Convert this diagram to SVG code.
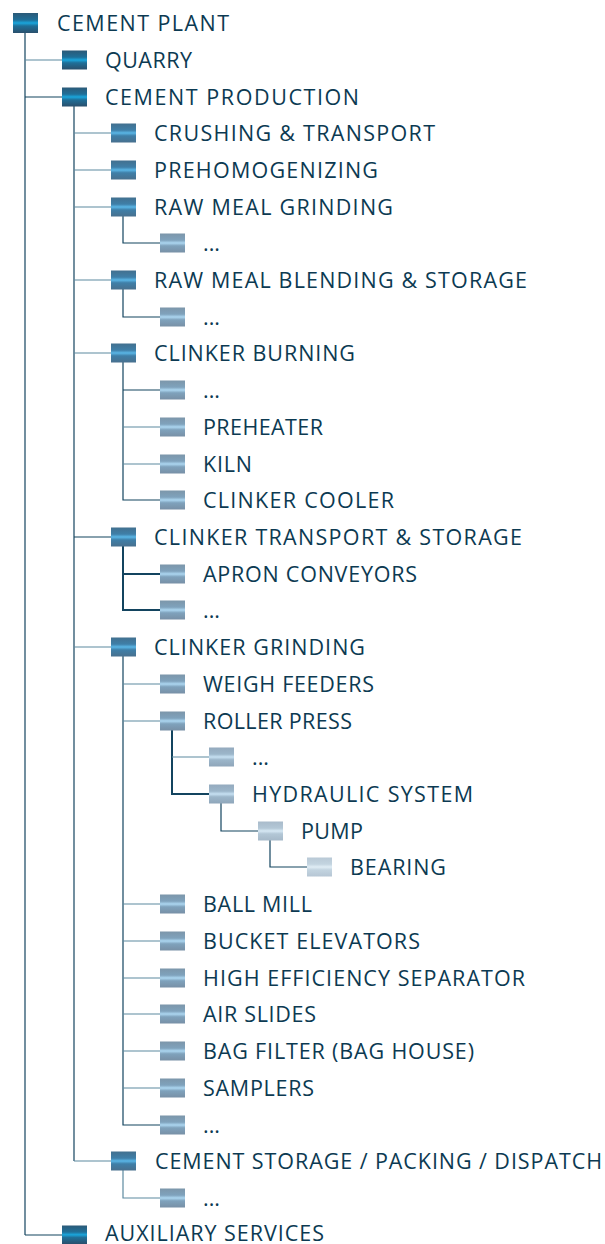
<svg xmlns="http://www.w3.org/2000/svg" width="605" height="1244" viewBox="0 0 605 1244">
<defs>
<linearGradient id="g0" x1="0" y1="0" x2="0" y2="1">
<stop offset="0" stop-color="#2b5a78"/><stop offset="0.35" stop-color="#1f6f98"/><stop offset="0.5" stop-color="#1aa6dc"/><stop offset="0.65" stop-color="#1f6f98"/><stop offset="1" stop-color="#2a4f6c"/>
</linearGradient>
<linearGradient id="g2" x1="0" y1="0" x2="0" y2="1">
<stop offset="0" stop-color="#42708f"/><stop offset="0.35" stop-color="#3f7fa8"/><stop offset="0.5" stop-color="#5ab6e6"/><stop offset="0.65" stop-color="#3f7fa8"/><stop offset="1" stop-color="#48708e"/>
</linearGradient>
<linearGradient id="g3" x1="0" y1="0" x2="0" y2="1">
<stop offset="0" stop-color="#7c96aa"/><stop offset="0.35" stop-color="#7fa2bc"/><stop offset="0.5" stop-color="#acd6f0"/><stop offset="0.65" stop-color="#7fa2bc"/><stop offset="1" stop-color="#7890a6"/>
</linearGradient>
<linearGradient id="g4" x1="0" y1="0" x2="0" y2="1">
<stop offset="0" stop-color="#94aabe"/><stop offset="0.35" stop-color="#9cb6ca"/><stop offset="0.5" stop-color="#c6e0f2"/><stop offset="0.65" stop-color="#9cb6ca"/><stop offset="1" stop-color="#8fa6ba"/>
</linearGradient>
<linearGradient id="g5" x1="0" y1="0" x2="0" y2="1">
<stop offset="0" stop-color="#a9bbcb"/><stop offset="0.35" stop-color="#b3c7d6"/><stop offset="0.5" stop-color="#d6e8f4"/><stop offset="0.65" stop-color="#b3c7d6"/><stop offset="1" stop-color="#a6b9c9"/>
</linearGradient>
<linearGradient id="g6" x1="0" y1="0" x2="0" y2="1">
<stop offset="0" stop-color="#b9c9d6"/><stop offset="0.35" stop-color="#c3d4e0"/><stop offset="0.5" stop-color="#e0edf5"/><stop offset="0.65" stop-color="#c3d4e0"/><stop offset="1" stop-color="#b6c6d4"/>
</linearGradient>
</defs>
<style>
text{font-family:"Open Sans","Liberation Sans",sans-serif;font-size:21.5px;fill:#0c3a52}
.c line,.c path{stroke:#13445f;stroke-width:1.2;fill:none}
.c .lt{stroke:#5d8aa0}
.c .b{stroke-width:2}
.l0{fill:url(#g0)}.l2{fill:url(#g2)}.l3{fill:url(#g3)}.l4{fill:url(#g4)}.l5{fill:url(#g5)}.l6{fill:url(#g6)}
</style>
<g class="c" id="connectors">
<line x1="25" y1="33" x2="25" y2="1235"/>
<line class="lt" x1="25" y1="60" x2="62" y2="60"/>
<line x1="25" y1="97" x2="62" y2="97"/>
<line x1="25" y1="1235" x2="62" y2="1235"/>
<line x1="74" y1="106" x2="74" y2="1161"/>
<line class="lt" x1="74" y1="133" x2="111" y2="133"/>
<line class="lt" x1="74" y1="170" x2="111" y2="170"/>
<line class="lt" x1="74" y1="207" x2="111" y2="207"/>
<line class="lt" x1="74" y1="280" x2="111" y2="280"/>
<line class="lt" x1="74" y1="353" x2="111" y2="353"/>
<line x1="74" y1="537" x2="111" y2="537"/>
<line class="lt" x1="74" y1="647" x2="111" y2="647"/>
<line class="lt" x1="74" y1="1161" x2="111" y2="1161"/>
<path d="M123 216V243H160"/>
<path d="M123 289V317H160"/>
<path d="M123 362V500H160"/>
<line x1="123" y1="390" x2="160" y2="390"/>
<line class="lt" x1="123" y1="427" x2="160" y2="427"/>
<line class="lt" x1="123" y1="464" x2="160" y2="464"/>
<path class="b" d="M123 546V610H160"/>
<line class="b" x1="123" y1="574" x2="160" y2="574"/>
<path d="M123 656V1125H160"/>
<line class="lt" x1="123" y1="684" x2="160" y2="684"/>
<line class="lt" x1="123" y1="721" x2="160" y2="721"/>
<line class="lt" x1="123" y1="904" x2="160" y2="904"/>
<line class="lt" x1="123" y1="941" x2="160" y2="941"/>
<line class="lt" x1="123" y1="978" x2="160" y2="978"/>
<line class="lt" x1="123" y1="1014" x2="160" y2="1014"/>
<line class="lt" x1="123" y1="1051" x2="160" y2="1051"/>
<line class="lt" x1="123" y1="1088" x2="160" y2="1088"/>
<path class="lt" d="M123 1170V1198H160"/>
<path class="b" d="M172 730V794H209"/>
<line class="lt" x1="172" y1="757" x2="209" y2="757"/>
<path d="M221 803V831H258"/>
<path d="M270 840V867H307"/>
</g>
<g id="n0"><rect class="l0" x="13" y="13" width="25" height="20"/><text x="57" y="30.5" textLength="172">CEMENT PLANT</text></g>
<g id="n1"><rect class="l0" x="62" y="50.5" width="25" height="19"/><text x="105" y="67.5" textLength="87">QUARRY</text></g>
<g id="n2"><rect class="l0" x="62" y="87.5" width="25" height="19"/><text x="105" y="104.5" textLength="254">CEMENT PRODUCTION</text></g>
<g id="n3"><rect class="l2" x="111" y="123.5" width="25" height="19"/><text x="154" y="140.5" textLength="281">CRUSHING &amp; TRANSPORT</text></g>
<g id="n4"><rect class="l2" x="111" y="160.5" width="25" height="19"/><text x="154" y="177.5" textLength="224">PREHOMOGENIZING</text></g>
<g id="n5"><rect class="l2" x="111" y="197.5" width="25" height="19"/><text x="154" y="214.5" textLength="239">RAW MEAL GRINDING</text></g>
<g id="n6"><rect class="l3" x="160" y="233.5" width="25" height="19"/><text x="203" y="250.5">...</text></g>
<g id="n7"><rect class="l2" x="111" y="270.5" width="25" height="19"/><text x="154" y="287.5" textLength="373">RAW MEAL BLENDING &amp; STORAGE</text></g>
<g id="n8"><rect class="l3" x="160" y="307.5" width="25" height="19"/><text x="203" y="324.5">...</text></g>
<g id="n9"><rect class="l2" x="111" y="343.5" width="25" height="19"/><text x="154" y="360.5" textLength="201">CLINKER BURNING</text></g>
<g id="n10"><rect class="l3" x="160" y="380.5" width="25" height="19"/><text x="203" y="397.5">...</text></g>
<g id="n11"><rect class="l3" x="160" y="417.5" width="25" height="19"/><text x="203" y="434.5" textLength="120">PREHEATER</text></g>
<g id="n12"><rect class="l3" x="160" y="454.5" width="25" height="19"/><text x="203" y="471.5" textLength="49">KILN</text></g>
<g id="n13"><rect class="l3" x="160" y="490.5" width="25" height="19"/><text x="203" y="507.5" textLength="191">CLINKER COOLER</text></g>
<g id="n14"><rect class="l2" x="111" y="527.5" width="25" height="19"/><text x="154" y="544.5" textLength="368">CLINKER TRANSPORT &amp; STORAGE</text></g>
<g id="n15"><rect class="l3" x="160" y="564.5" width="25" height="19"/><text x="203" y="581.5" textLength="214">APRON CONVEYORS</text></g>
<g id="n16"><rect class="l3" x="160" y="600.5" width="25" height="19"/><text x="203" y="617.5">...</text></g>
<g id="n17"><rect class="l2" x="111" y="637.5" width="25" height="19"/><text x="154" y="654.5" textLength="211">CLINKER GRINDING</text></g>
<g id="n18"><rect class="l3" x="160" y="674.5" width="25" height="19"/><text x="203" y="691.5" textLength="171">WEIGH FEEDERS</text></g>
<g id="n19"><rect class="l3" x="160" y="711.5" width="25" height="19"/><text x="203" y="728.5" textLength="149">ROLLER PRESS</text></g>
<g id="n20"><rect class="l4" x="209" y="747.5" width="25" height="19"/><text x="252" y="764.5">...</text></g>
<g id="n21"><rect class="l4" x="209" y="784.5" width="25" height="19"/><text x="252" y="801.5" textLength="221">HYDRAULIC SYSTEM</text></g>
<g id="n22"><rect class="l5" x="258" y="821.5" width="25" height="19"/><text x="301" y="838.5" textLength="62">PUMP</text></g>
<g id="n23"><rect class="l6" x="307" y="857.5" width="25" height="19"/><text x="350" y="874.5" textLength="96">BEARING</text></g>
<g id="n24"><rect class="l3" x="160" y="894.5" width="25" height="19"/><text x="203" y="911.5" textLength="109">BALL MILL</text></g>
<g id="n25"><rect class="l3" x="160" y="931.5" width="25" height="19"/><text x="203" y="948.5" textLength="217">BUCKET ELEVATORS</text></g>
<g id="n26"><rect class="l3" x="160" y="968.5" width="25" height="19"/><text x="203" y="985.5" textLength="322">HIGH EFFICIENCY SEPARATOR</text></g>
<g id="n27"><rect class="l3" x="160" y="1004.5" width="25" height="19"/><text x="203" y="1021.5" textLength="113">AIR SLIDES</text></g>
<g id="n28"><rect class="l3" x="160" y="1041.5" width="25" height="19"/><text x="203" y="1058.5" textLength="271">BAG FILTER (BAG HOUSE)</text></g>
<g id="n29"><rect class="l3" x="160" y="1078.5" width="25" height="19"/><text x="203" y="1095.5" textLength="111">SAMPLERS</text></g>
<g id="n30"><rect class="l3" x="160" y="1115.5" width="25" height="19"/><text x="203" y="1132.5">...</text></g>
<g id="n31"><rect class="l2" x="111" y="1151.5" width="25" height="19"/><text x="155" y="1168.5" textLength="447">CEMENT STORAGE / PACKING / DISPATCH</text></g>
<g id="n32"><rect class="l3" x="160" y="1188.5" width="25" height="19"/><text x="203" y="1205.5">...</text></g>
<g id="n33"><rect class="l0" x="62" y="1225.5" width="25" height="18.5"/><text x="105" y="1240.5" textLength="219">AUXILIARY SERVICES</text></g>
</svg>
